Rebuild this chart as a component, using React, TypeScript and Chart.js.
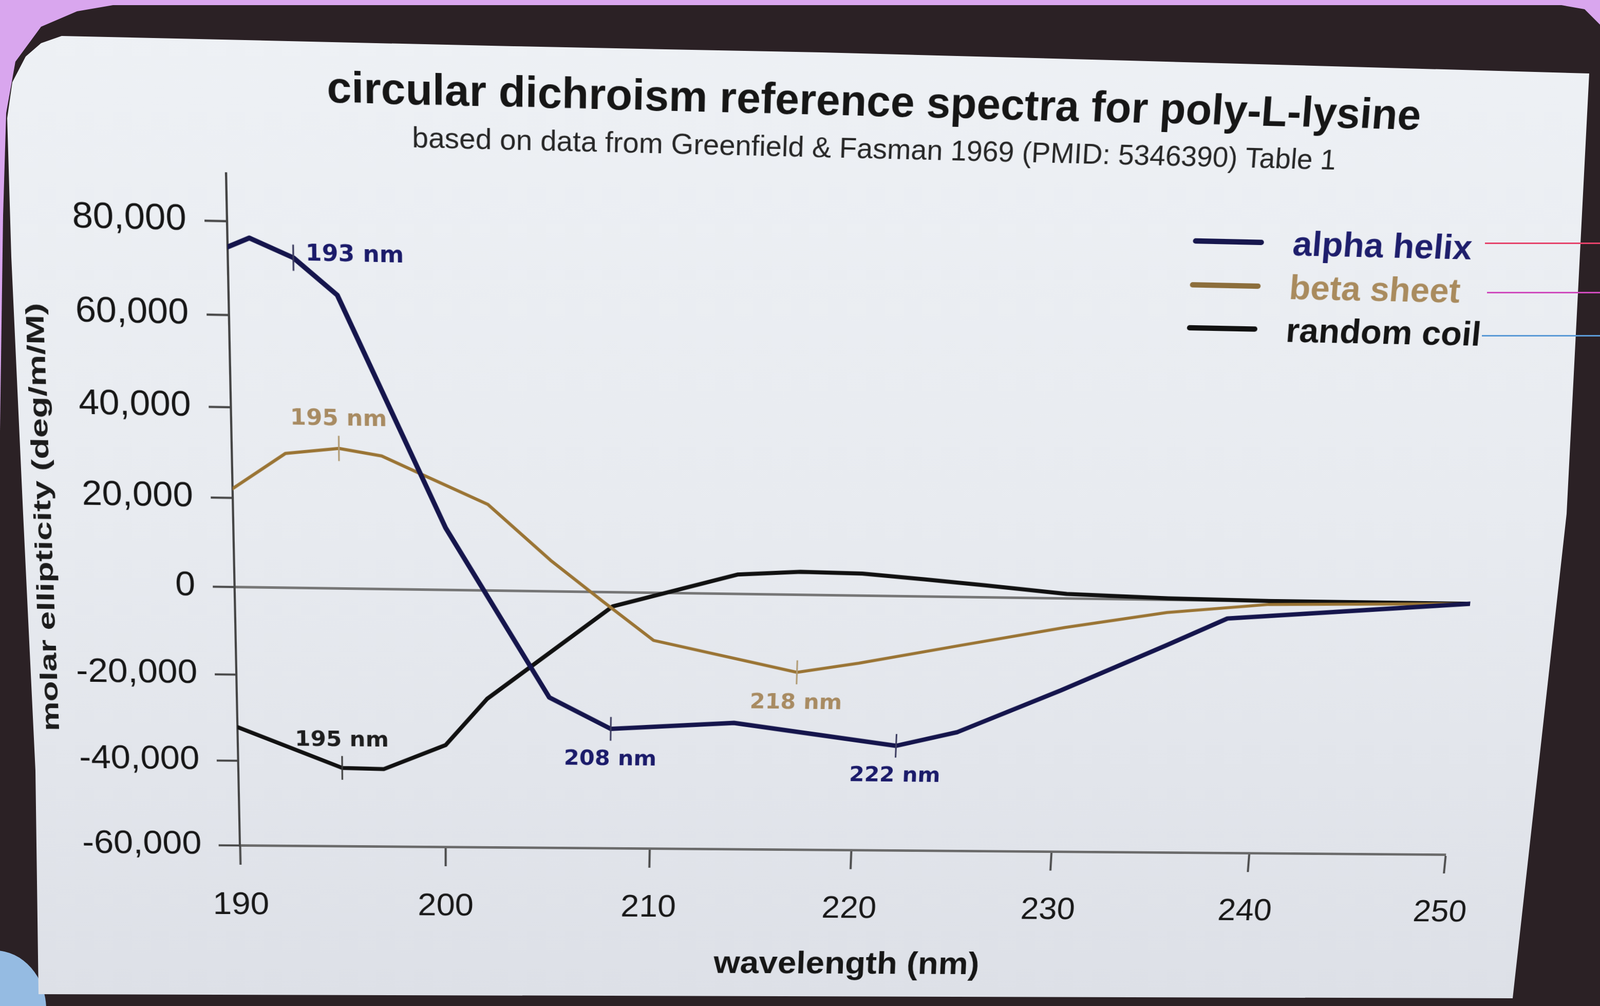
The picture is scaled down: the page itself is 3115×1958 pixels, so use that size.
import React, { useEffect, useRef } from 'react';
import { Chart, registerables } from 'chart.js';

Chart.register(...registerables);

// ---------- data ----------
const titleText = 'circular dichroism reference spectra for poly-L-lysine';
const subtitleText = 'based on data from Greenfield & Fasman 1969 (PMID: 5346390) Table 1';
const xAxisTitle = 'wavelength (nm)';
const yAxisTitle = 'molar ellipticity (deg/m/M)';

const xTickValues = [190, 200, 210, 220, 230, 240, 250];
const yTickValues = [-60000, -40000, -20000, 0, 20000, 40000, 60000, 80000];

const seriesLabels = ['alpha helix', 'beta sheet', 'random coil'];

const alphaNm = [190, 191, 193, 195, 200, 205, 208, 214, 222, 225, 230, 235, 238, 250];
const alphaValues = [74500, 76500, 72500, 64700, 14000, -24500, -31700, -30000, -35000, -31600, -21500, -10800, -4200, 0];

const betaNm = [190, 192.5, 195, 197, 199, 202, 205, 207.5, 210, 217, 220, 225, 230, 235, 240, 250];
const betaValues = [22000, 30000, 31300, 29800, 25600, 19400, 7000, -2100, -11000, -18000, -15700, -11200, -6800, -3000, -800, 0];

const coilNm = [190, 195, 197, 200, 202, 208, 214, 217, 220, 223, 226, 230, 235, 240, 250];
const coilValues = [-32200, -41500, -41700, -35900, -25000, -3300, 4400, 5200, 5000, 3900, 2700, 1000, 300, 0, 0];

const markerSeries = [0, 1, 2, 0, 1, 0];
const markerNm = [193, 195, 195, 208, 217, 222];
const markerLabels = ['193 nm', '195 nm', '195 nm', '208 nm', '218 nm', '222 nm'];

// ---------- styles ----------
const FONT = "'Liberation Sans', Arial, sans-serif";
const lineColors = ['#15154c', '#9a7434', '#111111'];
const lineWidths = [9, 6, 8];
const legendTextColors = ['#1e1e6c', '#a98b5e', '#151515'];
const legendLineColors = ['#17174e', '#8c6e3c', '#111111'];
const markerTextColors = ['#1b1b6a', '#a88b62', '#1e1e1e'];
const markerTickColors = ['#3a3a5e', '#b09a72', '#3a3a3a'];
const markerPlacement = ['right', 'above', 'above', 'below', 'below', 'below'];

// photo perspective: chart-frame points -> photographed points
const frameSrc = [[471, 1650], [2808, 1650], [471, 446], [2808, 1134]];
const frameDst = [[467, 1645], [2814, 1663], [442, 430], [2862, 1175]];

function homography(src: number[][], dst: number[][]): number[] {
  const M: number[][] = [];
  for (let i = 0; i < 4; i++) {
    const [x, y] = src[i];
    const [u, v] = dst[i];
    M.push([x, y, 1, 0, 0, 0, -u * x, -u * y, u]);
    M.push([0, 0, 0, x, y, 1, -v * x, -v * y, v]);
  }
  const n = 8;
  for (let c = 0; c < n; c++) {
    let p = c;
    for (let r = c + 1; r < n; r++) if (Math.abs(M[r][c]) > Math.abs(M[p][c])) p = r;
    const tmp = M[c]; M[c] = M[p]; M[p] = tmp;
    for (let r = 0; r < n; r++) {
      if (r === c) continue;
      const f = M[r][c] / M[c][c];
      for (let k = c; k <= n; k++) M[r][k] -= f * M[c][k];
    }
  }
  return M.map((row, i) => row[n] / row[i]);
}

const decorPlugin = {
  id: 'decor',
  afterDatasetsDraw(chart: any) {
    const { ctx, chartArea, scales } = chart;
    const xs = scales.x;
    const ys = scales.y;
    const seriesNm = [alphaNm, betaNm, coilNm];
    const seriesVal = [alphaValues, betaValues, coilValues];

    ctx.save();
    // peak markers
    markerNm.forEach((nm: number, i: number) => {
      const s = markerSeries[i];
      const idx = seriesNm[s].indexOf(nm);
      const px = xs.getPixelForValue(nm);
      const py = ys.getPixelForValue(seriesVal[s][idx]);
      ctx.strokeStyle = markerTickColors[s];
      ctx.lineWidth = 3;
      ctx.beginPath();
      ctx.moveTo(px, py - 24);
      ctx.lineTo(px, py + 24);
      ctx.stroke();
      ctx.fillStyle = markerTextColors[s];
      ctx.font = "bold 42px 'DejaVu Sans', sans-serif";
      ctx.textBaseline = 'middle';
      const place = markerPlacement[i];
      if (place === 'right') {
        ctx.textAlign = 'left';
        ctx.fillText(markerLabels[i], px + 22, py - 6);
      } else if (place === 'above') {
        ctx.textAlign = 'center';
        ctx.fillText(markerLabels[i], px, py - 55);
      } else {
        ctx.textAlign = 'center';
        ctx.fillText(markerLabels[i], px, py + 62);
      }
    });

    // legend
    const right = chartArea.right;
    const top = chartArea.top;
    const rows = [83, 165, 246];
    seriesLabels.forEach((label: string, i: number) => {
      const y = top + rows[i];
      ctx.strokeStyle = legendLineColors[i];
      ctx.lineWidth = 10;
      ctx.lineCap = 'round';
      ctx.beginPath();
      ctx.moveTo(right - 579, y);
      ctx.lineTo(right - 457, y);
      ctx.stroke();
      ctx.fillStyle = legendTextColors[i];
      ctx.font = `bold 65px ${FONT}`;
      ctx.textAlign = 'left';
      ctx.textBaseline = 'middle';
      ctx.fillText(label, right - 398, y + 5);
    });

    // y axis title (tall, narrow lettering)
    ctx.font = `bold 44px ${FONT}`;
    const w = ctx.measureText(yAxisTitle).width;
    const sx = 820 / w;
    ctx.translate(128, (chartArea.top + chartArea.bottom) / 2 + 8);
    ctx.rotate(-Math.PI / 2);
    ctx.scale(sx, 1);
    ctx.fillStyle = '#1c1c1c';
    ctx.textAlign = 'center';
    ctx.textBaseline = 'middle';
    ctx.fillText(yAxisTitle, 0, 0);
    ctx.restore();
  },
};

function ChartCanvas() {
  const ref = useRef<HTMLCanvasElement | null>(null);
  useEffect(() => {
    if (!ref.current) return;
    const mk = (xs: number[], vs: number[]) => xs.map((x, i) => ({ x, y: vs[i] }));
    const chart = new Chart(ref.current, {
      type: 'line',
      data: {
        datasets: [
          { label: seriesLabels[0], data: mk(alphaNm, alphaValues) },
          { label: seriesLabels[1], data: mk(betaNm, betaValues) },
          { label: seriesLabels[2], data: mk(coilNm, coilValues) },
        ].map((d, i) => ({
          ...d,
          borderColor: lineColors[i],
          backgroundColor: lineColors[i],
          borderWidth: lineWidths[i],
          pointRadius: 0,
          tension: 0,
          fill: false,
          borderJoinStyle: 'round' as const,
          borderCapStyle: 'round' as const,
        })),
      },
      options: {
        responsive: false,
        animation: false,
        devicePixelRatio: 1,
        layout: { padding: { top: 80, right: 307, bottom: 27, left: 0 } },
        plugins: {
          legend: { display: false },
          tooltip: { enabled: false },
          title: {
            display: true,
            text: titleText,
            fullSize: false,
            color: '#161616',
            font: { family: FONT, size: 78, weight: 'bold' },
            padding: { top: 80, bottom: 6 },
          },
          subtitle: {
            display: true,
            text: subtitleText,
            fullSize: false,
            color: '#262626',
            font: { family: FONT, size: 52, weight: 'normal' },
            padding: { top: 0, bottom: 38 },
          },
        },
        scales: {
          x: {
            type: 'linear',
            min: 190,
            max: 250,
            afterBuildTicks: (axis: any) => { axis.ticks = xTickValues.map((value) => ({ value })); },
            afterFit: (s: any) => { s.height = 281; },
            ticks: { font: { family: FONT, size: 64 }, color: '#181818', padding: 46, maxRotation: 0, autoSkip: false },
            grid: { drawOnChartArea: false, drawTicks: true, tickLength: 40, tickColor: '#4a4a4a', tickWidth: 4 },
            border: { display: true, color: '#6a6a6a', width: 5 },
            title: {
              display: true,
              text: xAxisTitle,
              color: '#161616',
              font: { family: FONT, size: 66, weight: 'bold' },
              padding: { top: 0, bottom: 0 },
            },
          },
          y: {
            type: 'linear',
            min: -60000,
            max: 90000,
            afterBuildTicks: (axis: any) => { axis.ticks = yTickValues.map((value) => ({ value })); },
            afterFit: (s: any) => { s.width = 471; },
            ticks: {
              font: { family: FONT, size: 66 },
              color: '#161616',
              padding: 32,
              callback: (v: any) => Number(v).toLocaleString('en-US'),
            },
            grid: {
              color: (c: any) => (c.tick && c.tick.value === 0 ? '#767676' : 'rgba(0,0,0,0)'),
              lineWidth: 5,
              drawTicks: true,
              tickLength: 40,
              tickColor: '#454545',
              tickWidth: 4,
            },
            border: { display: true, color: '#454545', width: 4 },
          },
        },
      },
      plugins: [decorPlugin],
    });
    return () => chart.destroy();
  }, []);

  const [a, b, c, d, e, f, g, h] = homography(frameSrc, frameDst);
  const transform = `matrix3d(${a},${d},0,${g},${b},${e},0,${h},0,0,1,0,${c},${f},0,1)`;

  return (
    <canvas
      ref={ref}
      width={3115}
      height={1958}
      style={{ position: 'absolute', left: 0, top: 0, width: 3115, height: 1958, transformOrigin: '0 0', transform }}
    />
  );
}

const bezelPolygon =
  'polygon(220px 10px, 3040px 10px, 3085px 18px, 3115px 48px, 3115px 1958px, 0px 1958px, 0px 840px, 6px 420px, 12px 220px, 30px 120px, 80px 52px, 150px 22px)';
const screenPolygon =
  'polygon(120px 70px, 1000px 90px, 1600px 102px, 2200px 118px, 3094px 143px, 3050px 1000px, 2945px 1943px, 75px 1935px, 69px 1500px, 45px 1000px, 22px 500px, 14px 230px, 24px 160px, 50px 110px, 80px 84px)';

export default function App() {
  return (
    <div style={{ position: 'absolute', left: 0, top: 0, width: 3115, height: 1958, overflow: 'hidden', background: '#d9a6ee' }}>
      <div style={{ position: 'absolute', left: 0, top: 0, width: 3115, height: 1958, clipPath: bezelPolygon, background: '#2b2125' }} />
      <div style={{ position: 'absolute', left: -110, top: 1850, width: 200, height: 230, borderRadius: '50%', background: '#95bbe2' }} />
      <div
        style={{
          position: 'absolute', left: 0, top: 0, width: 3115, height: 1958, clipPath: screenPolygon,
          background: 'linear-gradient(to bottom, #eef1f5 0%, #e8ebf0 50%, #dde0e7 100%)',
        }}
      />
      <ChartCanvas />
      <div style={{ position: 'absolute', left: 2891, top: 472, width: 224, height: 3, background: '#e5436b' }} />
      <div style={{ position: 'absolute', left: 2895, top: 568, width: 220, height: 3, background: '#cf4bbd' }} />
      <div style={{ position: 'absolute', left: 2885, top: 652, width: 230, height: 3, background: '#5b9ad6' }} />
    </div>
  );
}
